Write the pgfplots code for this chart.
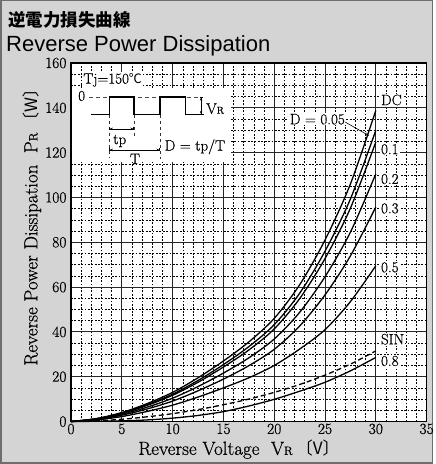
\documentclass[border=0pt]{standalone}
\usepackage{fontspec}
\setmainfont[FakeBold=0.6]{Latin Modern Roman}
\usepackage{pgfplots}
\usepackage{pgfplotstable}
\pgfplotsset{compat=1.18}
\usetikzlibrary{arrows.meta}
\newfontfamily\cjk{Noto Sans CJK JP}
\newfontfamily\arial{Liberation Sans}
\definecolor{bggray}{RGB}{212,212,212}
\definecolor{framegray}{RGB}{110,110,110}
\pgfplotstableread{
V     DC     d05    d1     d2     d3     d5     sin    d8
0     0      0      0      0      0      0      0      0
2.5   1.3    1.2    1.2    1.0    0.9    0.7    0.3    0.1
5     4.0    3.8    3.6    3.2    2.8    2.2    1.0    0.3
7.5   8.0    7.5    7.2    6.4    5.6    4.5    2.1    0.7
10    13.0   12.2   11.7   10.4   9.1    7.3    3.5    1.5
12.5  19.5   18.3   17.5   15.6   13.7   10.9   5.3    2.7
15    27.0   25.4   24.3   21.6   18.9   15.0   7.5    4.4
17.5  35.5   33.4   31.9   28.4   24.9   19.5   10.0   6.9
20    46.0   43.2   41.3   36.8   32.2   25.0   13.0   9.9
22.5  61.0   57.2   54.8   48.7   42.6   32.3   16.5   13.5
25    81.0   76.0   72.7   64.6   56.5   41.0   20.7   17.5
27.5  106.0  99.3   95.2   84.5   73.9   53.5   25.6   22.6
30    138.8  129.9  124.7  110.5  95.7   69.5   31.5   28.6
}\datatable
\begin{document}
\begin{tikzpicture}[x=1bp,y=1bp]
\fill[bggray] (0,0) rectangle (433,464);
\draw[framegray, line width=1.5bp] (0.75,0.75) rectangle (432.25,463.25);
\node[anchor=west, inner sep=0pt] at (8,444) {\cjk\bfseries\fontsize{17.5bp}{20bp}\selectfont 逆電力損失曲線};
\node[anchor=west, inner sep=0pt] at (6,418) {\arial\fontsize{22bp}{24bp}\selectfont Reverse Power Dissipation};
\begin{axis}[
  at={(71bp,42.5bp)}, anchor=south west,
  scale only axis, width=355.6bp, height=358.5bp,
  xmin=0, xmax=35, ymin=0, ymax=160,
  xtick={0,5,...,35}, ytick={0,20,...,160},
  minor x tick num=4, minor y tick num=3,
  grid=both,
  major grid style={black!85, line width=0.9bp},
  minor grid style={black, line width=0.5bp, dash pattern=on 1.8bp off 1.6bp},
  axis line style={black, line width=1.2bp},
  major tick length=0pt, minor tick length=0pt,
  axis background/.style={fill=white},
  /pgf/number format/assume math mode=true,
  tick label style={font=\fontsize{15.5bp}{15.5bp}\selectfont},
  xticklabel style={yshift=0bp, inner sep=2bp},
  yticklabel style={xshift=-1bp},
  clip=false,
]
% inset white area
\fill[white] (axis cs:0.1,116) rectangle (axis cs:15.7,149);
\node[fill=white, inner sep=1bp, anchor=west, font=\fontsize{15bp}{15bp}\selectfont] at (axis cs:1.1,152.4) {Tj=150{\cjk\fontsize{13bp}{13bp}\selectfont ℃}};
\draw[black!70, line width=0.8bp, dash pattern=on 4bp off 3bp] (axis cs:1.8,144.8) -- (axis cs:12.8,144.8);
\node[fill=white, inner sep=0.5bp, font=\fontsize{15bp}{15bp}\selectfont] at (axis cs:1.05,145.3) {0};
\draw[black, line width=1.3bp] (axis cs:1.94,137) -- (axis cs:3.77,137) -- (axis cs:3.77,144.8) -- (axis cs:6.2,144.8) -- (axis cs:6.2,137) -- (axis cs:8.76,137) -- (axis cs:8.76,144.8) -- (axis cs:11.3,144.8) -- (axis cs:11.3,137) -- (axis cs:13.1,137);
\draw[black, line width=0.6bp, {Bar[width=3bp]Stealth[length=3bp,width=2.5bp]}-{Stealth[length=3bp,width=2.5bp]Bar[width=3bp]}] (axis cs:12.8,144.8) -- (axis cs:12.8,137);
\node[anchor=west, inner sep=0pt, font=\fontsize{15bp}{15bp}\selectfont] at (axis cs:13.3,139.6) {V{\fontsize{10bp}{10bp}\selectfont R}};
\draw[black!80, line width=0.7bp, dash pattern=on 3.5bp off 2.5bp] (axis cs:3.77,137) -- (axis cs:3.77,118);
\draw[black!80, line width=0.7bp, dash pattern=on 3.5bp off 2.5bp] (axis cs:6.2,137) -- (axis cs:6.2,127.5);
\draw[black!80, line width=0.7bp, dash pattern=on 3.5bp off 2.5bp] (axis cs:8.76,137) -- (axis cs:8.76,117);
\draw[black, line width=0.6bp, {Bar[width=3bp]Stealth[length=3bp,width=2.5bp]}-{Stealth[length=3bp,width=2.5bp]Bar[width=3bp]}] (axis cs:3.77,130.6) -- (axis cs:6.2,130.6);
\draw[black, line width=0.6bp, {Bar[width=3bp]Stealth[length=3bp,width=2.5bp]}-{Stealth[length=3bp,width=2.5bp]Bar[width=3bp]}] (axis cs:3.77,121.2) -- (axis cs:8.76,121.2);
\node[font=\fontsize{15bp}{15bp}\selectfont, inner sep=0pt] at (axis cs:4.8,125.2) {tp};
\node[font=\fontsize{15bp}{15bp}\selectfont, inner sep=0pt] at (axis cs:6.3,117.2) {T};
\node[font=\fontsize{15bp}{15bp}\selectfont, inner sep=0pt] at (axis cs:12.2,122.6) {D = tp/T};
% curves
\addplot[black, line width=1.3bp, smooth] table[x=V, y=DC] {\datatable};
\addplot[black, line width=1.3bp, smooth] table[x=V, y=d05] {\datatable};
\addplot[black, line width=1.3bp, smooth] table[x=V, y=d1] {\datatable};
\addplot[black, line width=1.3bp, smooth] table[x=V, y=d2] {\datatable};
\addplot[black, line width=1.3bp, smooth] table[x=V, y=d3] {\datatable};
\addplot[black, line width=1.3bp, smooth] table[x=V, y=d5] {\datatable};
\addplot[black, line width=1.3bp, smooth, dash pattern=on 5bp off 3bp] table[x=V, y=sin] {\datatable};
\addplot[black, line width=1.3bp, smooth] table[x=V, y=d8] {\datatable};
% labels
\tikzset{lbl/.style={fill=white, inner sep=1bp, anchor=west, font=\fontsize{15bp}{15bp}\selectfont}}
\node[lbl] at (axis cs:30.4,143.5) {DC};
\node[lbl] at (axis cs:30.4,121.5) {0.1};
\node[lbl] at (axis cs:30.4,108.2) {0.2};
\node[lbl] at (axis cs:30.4,95.1) {0.3};
\node[lbl] at (axis cs:30.4,68.8) {0.5};
\node[lbl] at (axis cs:30.4,36.7) {SIN};
\node[lbl] at (axis cs:30.4,27.0) {0.8};
\node[fill=white, inner sep=1bp, font=\fontsize{15bp}{15bp}\selectfont] at (axis cs:24.25,134.9) {D = 0.05};
\draw[black, line width=0.6bp, -{Stealth[length=4bp,width=3bp]}] (axis cs:27.0,133.6) -- (axis cs:29.35,127.5);
\end{axis}
\node[font=\fontsize{19bp}{19bp}\selectfont, inner sep=0pt] at (239,14.5) {Reverse Voltage\ \ V{\fontsize{12bp}{12bp}\selectfont R}\,{\cjk\fontsize{17bp}{17bp}\selectfont 〔V〕}};
\node[font=\fontsize{19bp}{19bp}\selectfont, rotate=90, inner sep=0pt] at (32,241) {Reverse Power Dissipation\ \ P{\fontsize{12bp}{12bp}\selectfont R}\,{\cjk\fontsize{17bp}{17bp}\selectfont 〔W〕}};
\end{tikzpicture}
\end{document}
